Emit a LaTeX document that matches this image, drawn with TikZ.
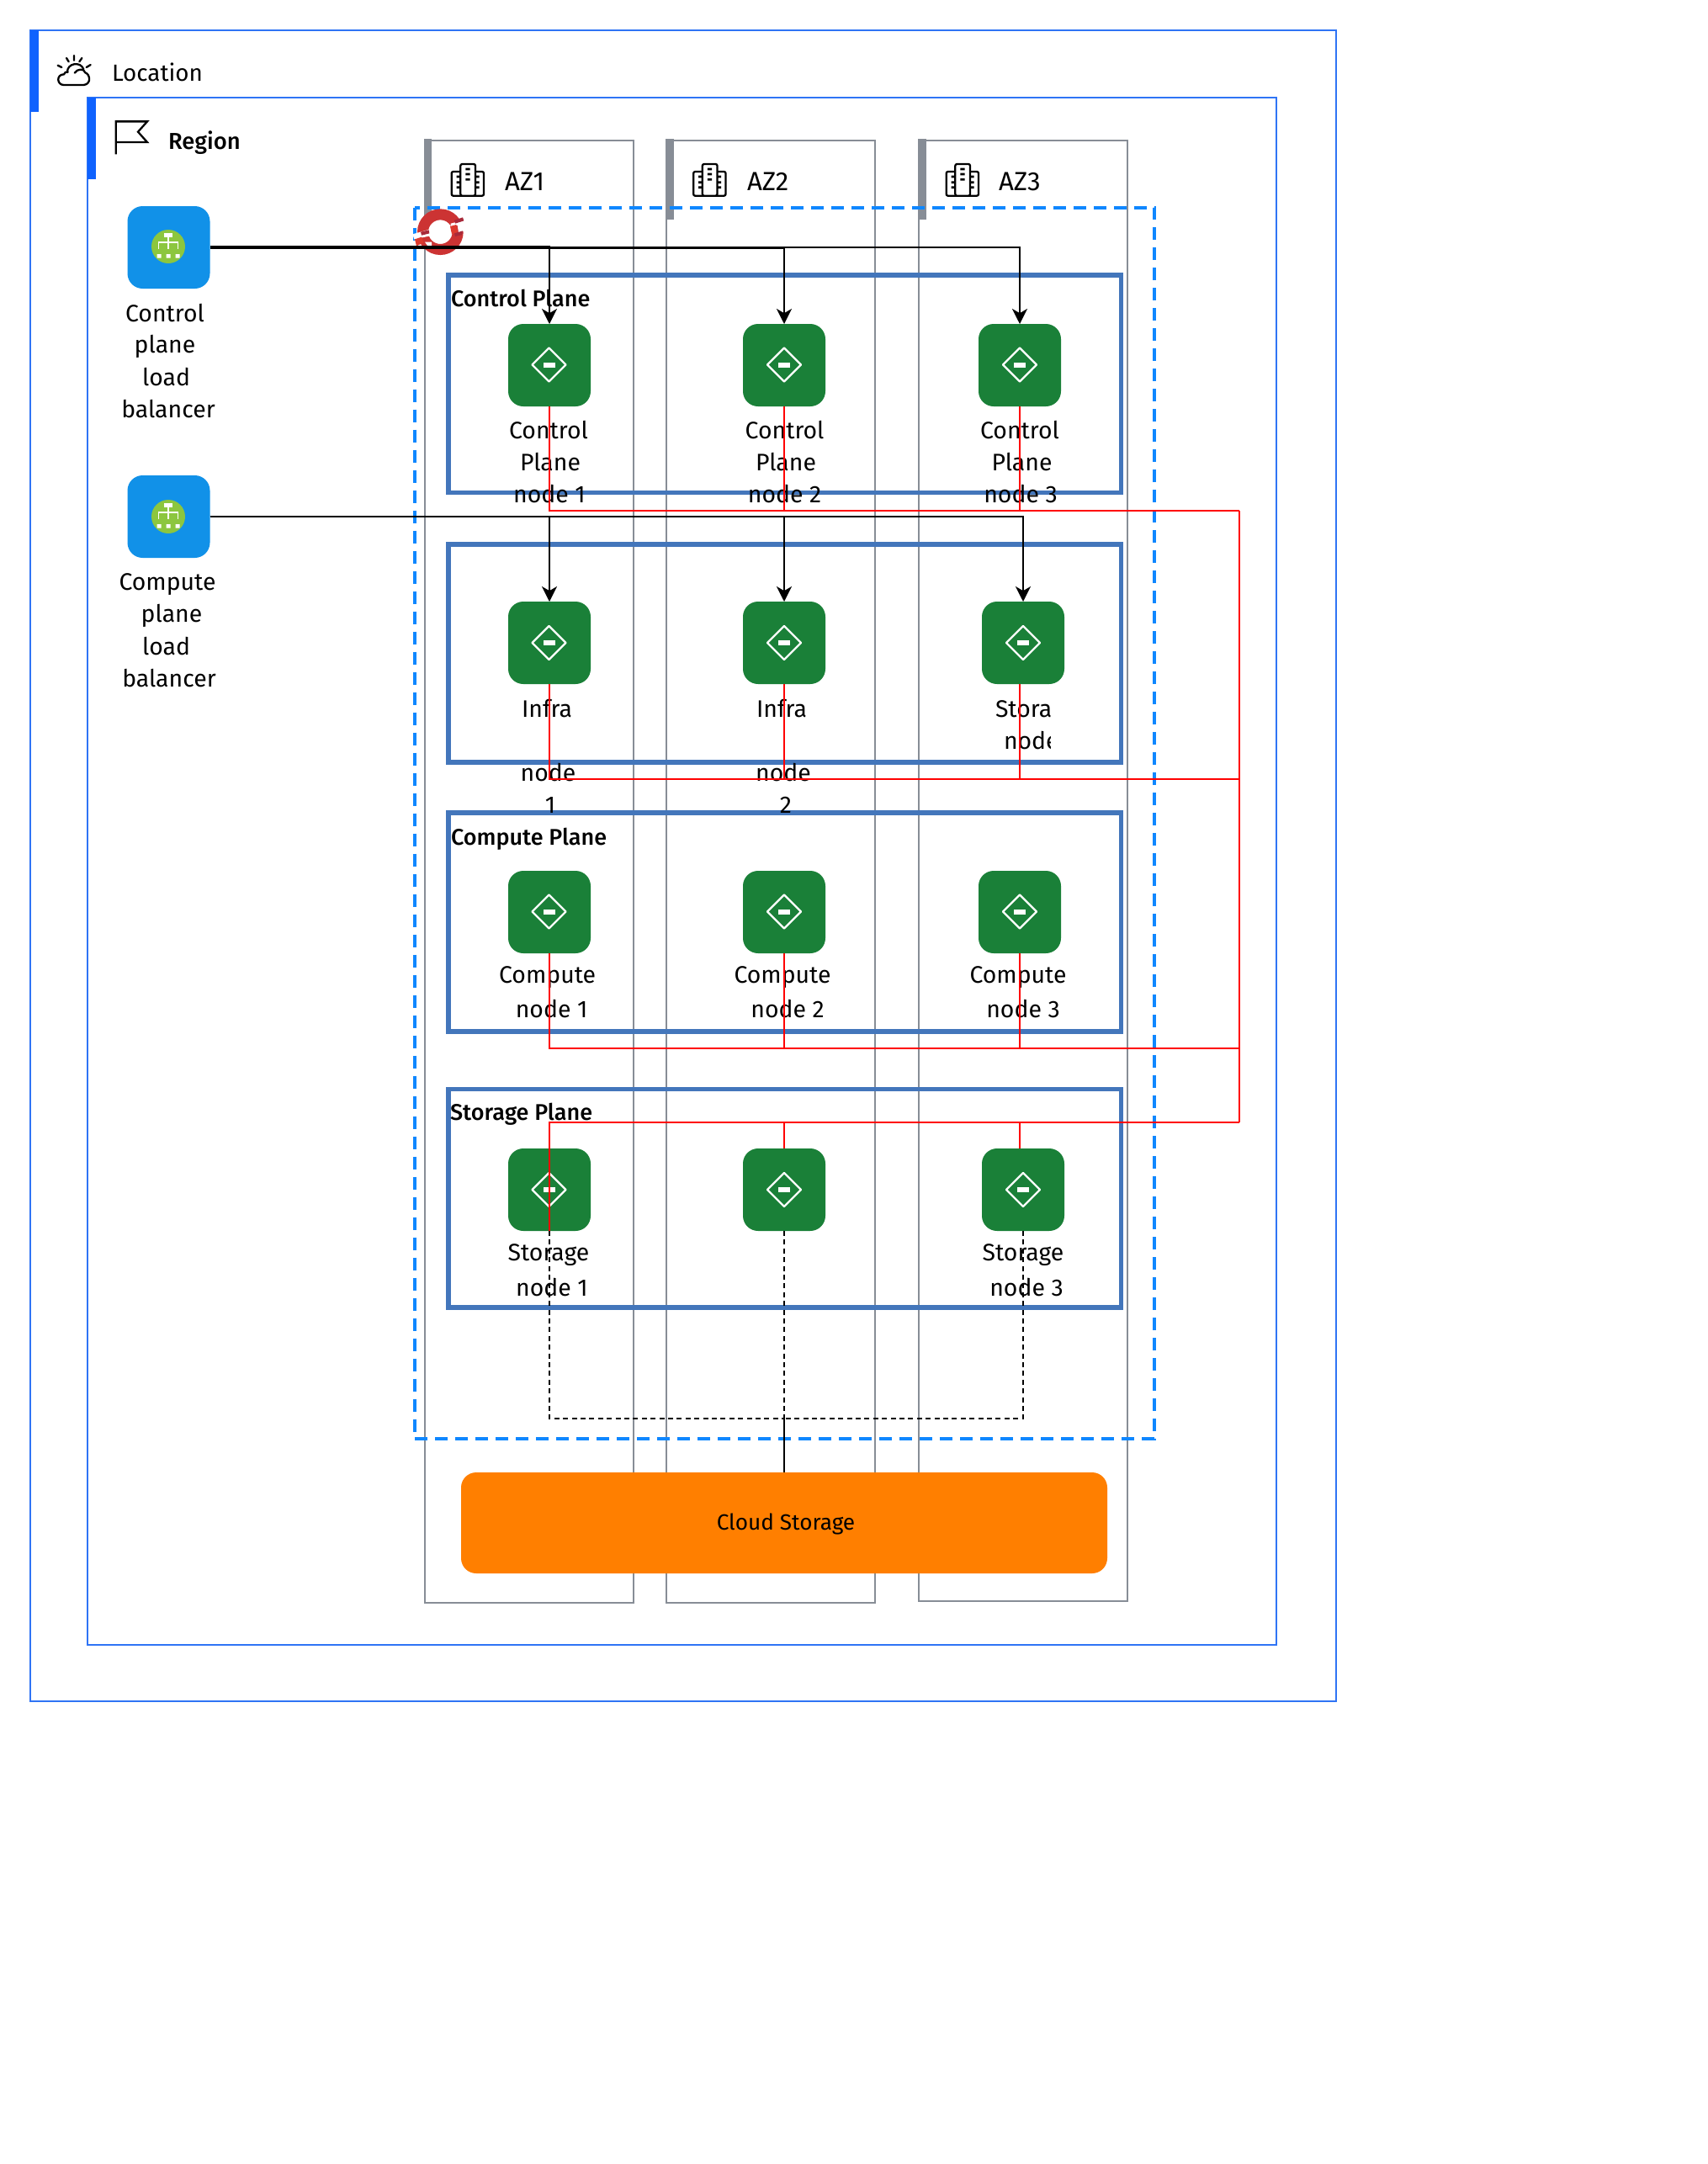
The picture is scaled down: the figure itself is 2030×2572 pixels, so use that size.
\documentclass[tikz,border=0pt]{standalone}
\usepackage{fontspec}
\setmainfont{Fira Sans}
\usetikzlibrary{arrows.meta,calc}
\definecolor{locblue}{HTML}{2F74F5}
\definecolor{barblue}{HTML}{0F62FE}
\definecolor{azgray}{HTML}{878D96}
\definecolor{planeblue}{HTML}{4376BB}
\definecolor{dashblue}{HTML}{0F87FF}
\definecolor{nodegreen}{HTML}{1A8038}
\definecolor{lbblue}{HTML}{1191E8}
\definecolor{lbgreen}{HTML}{8CC63F}
\definecolor{cloudorange}{HTML}{FF7F00}
\definecolor{hatred}{HTML}{CC3333}
\definecolor{hatdark}{HTML}{A82A3A}
\definecolor{hatbright}{HTML}{DD3A2E}
\tikzset{
  lbl/.style={inner sep=0pt,outer sep=0pt,anchor=center,font=\fontsize{14.2}{17}\selectfont,text height=10pt,text depth=0pt},
  lbg/.style={lbl,text depth=2.8pt},
  head/.style={inner sep=0pt,outer sep=0pt,anchor=west,font=\fontsize{13.9}{17}\selectfont,text height=10pt,text depth=0pt},
  azhead/.style={head,font=\fontsize{15.6}{18}\selectfont},
  plhead/.style={inner sep=0pt,outer sep=0pt,anchor=west,font=\fontsize{13.5}{16}\selectfont\fontspec{Fira Sans Medium},text height=9.5pt,text depth=0pt},
  container/.style={draw=locblue,line width=1pt},
  bar/.style={fill=barblue,draw=none},
  azbox/.style={draw=azgray,line width=1pt},
  azbar/.style={fill=azgray,draw=none},
  planebox/.style={draw=planeblue,line width=2.7pt},
  svc/.style={draw=none,fill=nodegreen,rounded corners=9pt,minimum width=49pt,minimum height=49pt,inner sep=0pt,outer sep=0pt},
  lbsvc/.style={draw=none,fill=lbblue,rounded corners=9pt,minimum width=49pt,minimum height=49pt,inner sep=0pt,outer sep=0pt},
  blackln/.style={draw=black,line width=1pt},
  arrowln/.style={blackln,-{Stealth[length=9pt,width=9pt,inset=2.6pt]}},
  redln/.style={draw=red,line width=1pt},
  dashln/.style={draw=black,line width=1pt,dash pattern=on 3pt off 2.2pt},
  ico/.style={draw=black,line width=1.15pt,line cap=round,line join=round},
}
\newcommand{\nodeglyph}[1]{%
  \draw[white,line width=1.1pt,line join=round] ($(#1)+(-20,0)$) -- ($(#1)+(0,-20)$) -- ($(#1)+(20,0)$) -- ($(#1)+(0,20)$) -- cycle;
  \fill[white] ($(#1)+(-7,-3)$) rectangle ($(#1)+(7,3)$);}
\newcommand{\lbglyph}[1]{%
  \fill[lbgreen] (#1) circle[radius=10pt];
  \begin{scope}[shift={(#1)}]
  \fill[white] (-5,-16) rectangle (5,-11);
  \draw[white,line width=0.7pt] (0,-11) -- (0,3) (-11.5,3) -- (-11.5,-5) -- (11.5,-5) -- (11.5,3);
  \fill[white] (-13.5,9) rectangle (-8.5,13.5) (-2.5,9) rectangle (2.5,13.5) (8.5,9) rectangle (13.5,13.5);
  \end{scope}}
\newcommand{\buildglyph}[1]{%
  \begin{scope}[shift={(#1)},x=0.1667pt,y=-0.1667pt]
  \draw[ico,rounded corners=1pt] (50,72) rectangle (165,158);
  \draw[ico,rounded corners=1pt,fill=white] (82,45) rectangle (135,158);
  \fill (100,59) rectangle (116,67) (100,77) rectangle (116,85) (100,96) rectangle (116,104);
  \fill (68,86) rectangle (80,94) (68,106) rectangle (80,114) (68,124) rectangle (80,132);
  \fill (137,86) rectangle (149,94) (137,106) rectangle (149,114) (137,124) rectangle (149,132);
  \end{scope}}
\begin{document}
\begin{tikzpicture}[x=0.5pt,y=-0.5pt]
\useasboundingbox (0,0) rectangle (2030,2572);
\fill[white] (0,0) rectangle (2030,2572);
% containers
\draw[container] (36,36) rectangle (1588,2022);
\fill[bar] (36,36) rectangle (45.5,133);
\draw[container] (104,116) rectangle (1516.5,1955);
\fill[bar] (104,116) rectangle (113.5,213);
% location icon
\begin{scope}[shift={(60,55)},x=0.1667pt,y=-0.1667pt]
\draw[ico] (84,33) -- (84,50) (57,42) -- (65,55) (112,42) -- (103,55) (26,68) -- (40,75) (143,66) -- (128,75);
\draw[ico] (60,93) .. controls (58,60) and (108,52) .. (118,82);
\draw[ico] (86,95) .. controls (95,80) and (120,78) .. (124,94) .. controls (140,98) and (148,135) .. (118,138) -- (48,138) .. controls (22,138) and (20,100) .. (48,100) .. controls (50,92) and (56,90) .. (62,92);
\end{scope}
\node[head] (loctext) at (133,86.5) {Location};
% region icon
\begin{scope}[shift={(60,55)},x=0.1667pt,y=-0.1667pt]
\draw[ico,line cap=butt,line join=miter] (233,385) -- (233,268) -- (345,268) -- (312,305) -- (345,342) -- (233,342);
\end{scope}
\node[plhead,font=\fontsize{13.7}{16}\selectfont\fontspec{Fira Sans Medium}] (regtext) at (200,167.5) {Region};
% availability zones
\draw[azbox] (504.5,167) rectangle (752.5,1905);
\fill[azbar] (503.5,165) rectangle (513,261);
\draw[azbox] (792,167) rectangle (1040,1905);
\fill[azbar] (791,165) rectangle (800.5,261);
\draw[azbox] (1092,167) rectangle (1339.5,1903);
\fill[azbar] (1091,165) rectangle (1100.5,261);
\buildglyph{520,180}
\buildglyph{807.5,180}
\buildglyph{1108,180}
\node[azhead] (az1) at (600,216) {AZ1};
\node[azhead] (az2) at (888,216) {AZ2};
\node[azhead] (az3) at (1187,216) {AZ3};
% cluster boundary
\draw[draw=dashblue,line width=2pt,dash pattern=on 7.5pt off 4.5pt] (492.5,246.5) rectangle (1372,1710);
% red hat logo
\begin{scope}[shift={(485,235)},x=0.1667pt,y=-0.1667pt]
\draw[hatred,line width=6.5pt] (115,122) circle[radius=62.5];
\fill[white] (152,92) -- (205,78) -- (205,118) -- (180,124) -- (176,98) -- (152,104) -- cycle;
\fill[white] (16,130) -- (80,112) -- (84,135) -- (22,148) -- cycle;
\fill[white] (60,158) -- (84,158) -- (84,172) -- (70,172) -- cycle;
\fill[hatbright] (150,102) -- (172,96) -- (177,124) -- (156,130) -- cycle;
\fill[hatdark] (165,80) -- (195,70) -- (199,82) -- (168,92) -- cycle;
\fill[hatdark] (165,127) -- (195,118) -- (193,132) -- (168,138) -- cycle;
\fill[hatdark] (45,122) -- (74,115) -- (76,127) -- (48,134) -- cycle;
\fill[hatbright] (24,148) -- (48,140) -- (56,160) -- (30,172) -- cycle;
\end{scope}
% planes
\draw[planebox] (533,327) rectangle (1332.5,585.5);
\draw[planebox] (533,647) rectangle (1332.5,906);
\draw[planebox] (533,966) rectangle (1332.5,1226);
\draw[planebox] (533,1294.5) rectangle (1332.5,1554);
\node[plhead] (cptitle) at (536,355) {Control Plane};
\node[plhead] (cotitle) at (536,994.5) {Compute Plane};
\node[plhead] (sttitle) at (535,1322) {Storage Plane};
% load balancers
\node[lbsvc] (clb) at (200.5,294) {};
\lbglyph{200,293}
\node[lbsvc] (plb) at (200.5,614) {};
\lbglyph{200,614}
\node[lbl] (clb1) at (196,372) {Control};
\node[lbg] (clb2) at (196,412) {plane};
\node[lbl] (clb3) at (197.5,448) {load};
\node[lbl] (clb4) at (200,486) {balancer};
\node[lbg] (plb1) at (199,694) {Compute};
\node[lbg] (plb2) at (204,732) {plane};
\node[lbl] (plb3) at (197.5,768) {load};
\node[lbl] (plb4) at (201,806) {balancer};
% service nodes
\node[svc] (cp1) at (653,434) {}; \nodeglyph{652.5,433.5}
\node[svc] (cp2) at (932,434) {}; \nodeglyph{932,433.5}
\node[svc] (cp3) at (1212,434) {}; \nodeglyph{1212,433.5}
\node[svc] (if1) at (653,764) {}; \nodeglyph{652.5,764}
\node[svc] (if2) at (932,764) {}; \nodeglyph{932,764}
\node[svc] (if3) at (1216,764) {}; \nodeglyph{1216,764}
\node[svc] (co1) at (653,1084) {}; \nodeglyph{652.5,1083.5}
\node[svc] (co2) at (932,1084) {}; \nodeglyph{932,1083.5}
\node[svc] (co3) at (1212,1084) {}; \nodeglyph{1212,1083.5}
\node[svc] (st1) at (653,1414) {}; \nodeglyph{652.5,1414}
\node[svc] (st2) at (932,1414) {}; \nodeglyph{932,1414}
\node[svc] (st3) at (1216,1414) {}; \nodeglyph{1216,1414}
\node[draw=none,fill=cloudorange,rounded corners=9pt,minimum width=384pt,minimum height=60pt,inner sep=0pt,outer sep=0pt] (cloud) at (932,1810) {};
\node[inner sep=0pt,font=\fontsize{13.1}{15}\selectfont] (cloudtext) at (934,1811) {Cloud Storage};
% node labels
\node[lbl] (c1a) at (652,511) {Control};
\node[lbl] (c1b) at (654,549) {Plane};
\node[lbl] (c1c) at (653,587) {node 1};
\node[lbl] (c2a) at (932.6,511) {Control};
\node[lbl] (c2b) at (934,549) {Plane};
\node[lbl] (c2c) at (932.6,587) {node 2};
\node[lbl] (c3a) at (1212,511) {Control};
\node[lbl] (c3b) at (1214.5,549) {Plane};
\node[lbl] (c3c) at (1213,587) {node 3};
\node[lbl] (i1a) at (650,842) {Infra};
\node[lbl] (i1b) at (651.5,918) {node};
\node[lbl] (i1c) at (654,956) {1};
\node[lbl] (i2a) at (929,842) {Infra};
\node[lbl] (i2b) at (931,918) {node};
\node[lbl] (i2c) at (934,956) {2};
\begin{scope}
\clip (1150,800) rectangle (1248,900);
\node[lbl,anchor=west] (i3a) at (1183,842) {Stora};
\node[lbl,anchor=west] (i3b) at (1193,880) {node};
\end{scope}
\node[lbg] (o1a) at (650.6,1161.5) {Compute};
\node[lbl] (o1b) at (655.6,1199.5) {node 1};
\node[lbg] (o2a) at (930,1161.5) {Compute};
\node[lbl] (o2b) at (936,1199.5) {node 2};
\node[lbg] (o3a) at (1210,1161.5) {Compute};
\node[lbl] (o3b) at (1216,1199.5) {node 3};
\node[lbg] (s1a) at (652,1491.5) {Storage};
\node[lbl] (s1b) at (656,1530) {node 1};
\node[lbg] (s3a) at (1216,1491.5) {Storage};
\node[lbl] (s3b) at (1220,1530) {node 3};
% red mesh
\coordinate (redA) at (1473,607);
\coordinate (redB) at (1473,926);
\coordinate (redC) at (1473,1246);
\coordinate (redD) at (1473,1334);
\draw[redln] (redA) -- (redD);
\draw[redln] (cp1.south) |- (redA);
\draw[redln] (cp2.south) |- (redA);
\draw[redln] (cp3.south) |- (redA);
\draw[redln] (if1.south) |- (redB);
\draw[redln] (if2.south) |- (redB);
\draw[redln] ([xshift=-2pt]if3.south) |- (redB);
\draw[redln] (co1.south) |- (redC);
\draw[redln] (co2.south) |- (redC);
\draw[redln] (co3.south) |- (redC);
\draw[redln] (st1.south) |- (redD);
\draw[redln] (st2.north) |- (redD);
\draw[redln] ([xshift=-2pt]st3.north) |- (redD);
% load balancer links
\draw[arrowln] ([yshift=0.75pt]clb.east) -| (cp1.north);
\draw[arrowln] ([yshift=-0.25pt]clb.east) -| (cp2.north);
\draw[arrowln] ([yshift=0.25pt]clb.east) -| (cp3.north);
\draw[arrowln] ([yshift=0.25pt]plb.east) -| (if1.north);
\draw[arrowln] (plb.east) -| (if2.north);
\draw[arrowln] (plb.east) -| (if3.north);
% storage links
\coordinate (stjoin) at (932,1686);
\draw[dashln] (st1.south) |- (stjoin);
\draw[dashln] (st2.south) -- (stjoin);
\draw[dashln] (st3.south) |- (stjoin);
\draw[blackln] (stjoin) -- (cloud.north);
\end{tikzpicture}
\end{document}
